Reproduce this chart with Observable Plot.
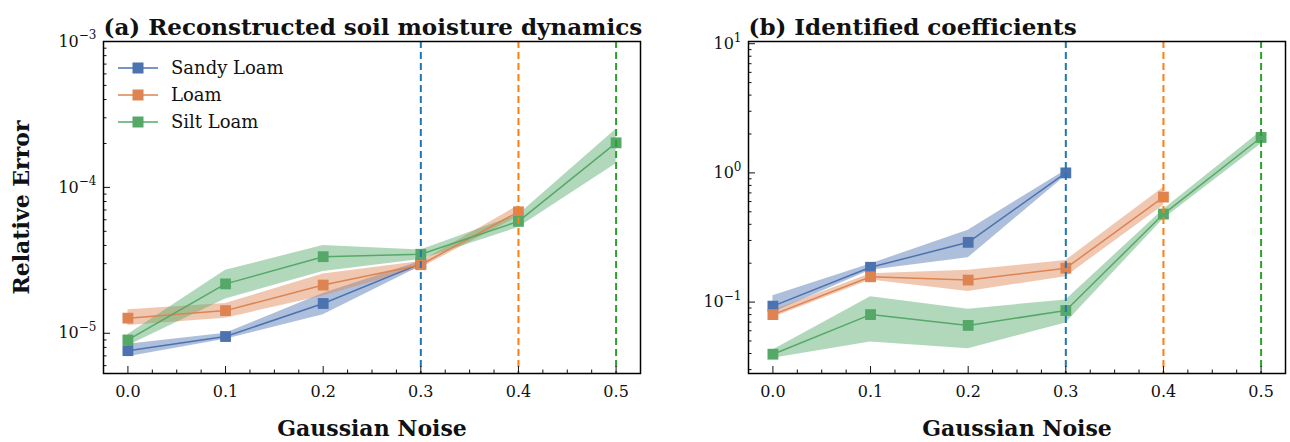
<!DOCTYPE html>
<html><head><meta charset="utf-8">
<script src="https://cdn.jsdelivr.net/npm/d3@7"></script>
<script src="https://cdn.jsdelivr.net/npm/@observablehq/plot@0.6"></script>
<style>
body{margin:0;background:#fff;}
#wrap{display:flex;width:1290px;height:442px;font-family:"DejaVu Serif",serif;}
.panel{position:relative;width:645px;height:442px;}
.legend{position:absolute;left:118px;top:54px;font-family:"DejaVu Serif",serif;font-size:18px;line-height:27px;color:#111;}
.legend div{display:flex;align-items:center;height:27px;}
.legend svg{margin-right:13px;}
</style></head><body><div id="wrap"></div>
<script>
const noise = [0.0, 0.1, 0.2, 0.3, 0.4, 0.5];
const soils = ["Sandy Loam", "Loam", "Silt Loam"];
const colors = ["#4c72b0", "#dd8452", "#55a868"];
const limitNoise = [0.3, 0.4, 0.5];
const limitColors = ["#1f77b4", "#ff7f0e", "#2ca02c"];
const xMinor = [-0.025, 0.025, 0.05, 0.075, 0.125, 0.15, 0.175, 0.225, 0.25, 0.275, 0.325, 0.35, 0.375, 0.425, 0.45, 0.475, 0.525];

// (a) Reconstructed soil moisture dynamics — relative error
const aSandyMean = [7.6e-6, 9.5e-6, 1.6e-5, 3.0e-5];
const aSandyLow  = [6.9e-6, 9.1e-6, 1.34e-5, 2.88e-5];
const aSandyHigh = [8.4e-6, 1.0e-5, 1.87e-5, 3.12e-5];
const aLoamMean = [1.27e-5, 1.43e-5, 2.14e-5, 2.95e-5, 6.8e-5];
const aLoamLow  = [1.13e-5, 1.27e-5, 1.8e-5, 2.8e-5, 6.3e-5];
const aLoamHigh = [1.45e-5, 1.6e-5, 2.55e-5, 3.1e-5, 7.5e-5];
const aSiltMean = [9.0e-6, 2.18e-5, 3.35e-5, 3.48e-5, 5.85e-5, 2.02e-4];
const aSiltLow  = [8.2e-6, 1.72e-5, 2.65e-5, 3.2e-5, 5.3e-5, 1.45e-4];
const aSiltHigh = [9.8e-6, 2.7e-5, 4.0e-5, 3.72e-5, 6.5e-5, 2.5e-4];
const aYTicks = [1e-5, 1e-4, 1e-3];
const aYMinor = [6e-6,7e-6,8e-6,9e-6,2e-5,3e-5,4e-5,5e-5,6e-5,7e-5,8e-5,9e-5,2e-4,3e-4,4e-4,5e-4,6e-4,7e-4,8e-4,9e-4];

// (b) Identified coefficients — relative error
const bSandyMean = [0.093, 0.186, 0.29, 1.0];
const bSandyLow  = [0.083, 0.176, 0.22, 0.95];
const bSandyHigh = [0.112, 0.197, 0.36, 1.05];
const bLoamMean = [0.080, 0.157, 0.148, 0.183, 0.65];
const bLoamLow  = [0.076, 0.148, 0.121, 0.157, 0.56];
const bLoamHigh = [0.086, 0.166, 0.176, 0.21, 0.77];
const bSiltMean = [0.0395, 0.080, 0.066, 0.086, 0.48, 1.88];
const bSiltLow  = [0.0367, 0.049, 0.0436, 0.069, 0.44, 1.67];
const bSiltHigh = [0.0425, 0.11, 0.088, 0.104, 0.52, 2.1];
const bYTicks = [0.1, 1, 10];
const bYMinor = [0.03,0.04,0.05,0.06,0.07,0.08,0.09,0.2,0.3,0.4,0.5,0.6,0.7,0.8,0.9,2,3,4,5,6,7,8,9];

function rowsOf(series) {
  const rows = [];
  series.forEach(([soil, mean, lo, hi]) => {
    mean.forEach((v, i) => rows.push({soil, x: noise[i], y: v, lo: lo[i], hi: hi[i]}));
  });
  return rows;
}
const aRows = rowsOf([["Sandy Loam", aSandyMean, aSandyLow, aSandyHigh], ["Loam", aLoamMean, aLoamLow, aLoamHigh], ["Silt Loam", aSiltMean, aSiltLow, aSiltHigh]]);
const bRows = rowsOf([["Sandy Loam", bSandyMean, bSandyLow, bSandyHigh], ["Loam", bLoamMean, bLoamLow, bLoamHigh], ["Silt Loam", bSiltMean, bSiltLow, bSiltHigh]]);

function supFmt(d) { return "10^" + Math.round(Math.log10(d)); }

function panel(rows, yDomain, yTicks, yMinor, title, yLabel) {
  const svg = Plot.plot({
    width: 645, height: 442,
    marginLeft: 103, marginRight: 5, marginTop: 41, marginBottom: 69,
    style: {fontFamily: "DejaVu Serif, serif", fontSize: "16px", color: "#111", background: "white", overflow: "visible"},
    x: {domain: [-0.025, 0.525]},
    y: {type: "log", domain: yDomain},
    color: {domain: soils, range: colors},
    marks: [
      Plot.areaY(rows, {x: "x", y1: "lo", y2: "hi", z: "soil", fill: "soil", fillOpacity: 0.45}),
      Plot.lineY(rows, {x: "x", y: "y", z: "soil", stroke: "soil", strokeWidth: 1.5}),
      Plot.dot(rows, {x: "x", y: "y", fill: "soil", symbol: "square", r: 6.1}),
      ...limitNoise.map((v, i) => Plot.ruleX([v], {stroke: limitColors[i], strokeWidth: 2, strokeDasharray: "7,4"})),
      Plot.axisX({ticks: noise, tickSize: -7, tickPadding: 19, tickFormat: d3.format(".1f"), label: "Gaussian Noise", labelAnchor: "center", labelArrow: "none", labelOffset: 62}),
      Plot.axisX({ticks: xMinor, tickSize: -3.5, tickFormat: () => "", label: null}),
      Plot.axisY({ticks: yTicks, tickSize: -7, tickPadding: 14, tickFormat: supFmt, label: yLabel, labelAnchor: "center", labelArrow: "none", labelOffset: 90}),
      Plot.axisY({ticks: yMinor, tickSize: -3.5, tickFormat: () => "", label: null}),
      Plot.text([title], {text: d => d, frameAnchor: "top-left", dy: -23, textAnchor: "start", fontSize: 23, fontWeight: "bold"}),
      Plot.frame({stroke: "black", strokeWidth: 1.5})
    ]
  });
  // superscript exponents
  svg.querySelectorAll('[aria-label="y-axis tick label"] text').forEach(t => {
    const m = t.textContent.match(/^10\^(-?\d+)$/);
    if (m) {
      const e = m[1].replace("-", "\u2212");
      t.textContent = "10";
      const ts = document.createElementNS("http://www.w3.org/2000/svg", "tspan");
      ts.setAttribute("font-size", "12");
      ts.setAttribute("dy", "-0.6em");
      ts.textContent = e;
      t.appendChild(ts);
    }
  });
  svg.querySelectorAll('[aria-label="x-axis label"] text, [aria-label="y-axis label"] text').forEach(t => {
    t.setAttribute("font-size", "22");
    t.setAttribute("font-weight", "bold");
  });
  return svg;
}

const wrap = document.getElementById("wrap");
const pa = document.createElement("div"); pa.className = "panel";
pa.appendChild(panel(aRows, [5.3e-6, 1e-3], aYTicks, aYMinor, "(a) Reconstructed soil moisture dynamics", "Relative Error"));
const leg = document.createElement("div"); leg.className = "legend";
soils.forEach((s, i) => {
  const row = document.createElement("div");
  row.innerHTML = `<svg width="40" height="14"><line x1="0" y1="7" x2="40" y2="7" stroke="${colors[i]}" stroke-width="1.5"/><rect x="14.5" y="1.5" width="11" height="11" fill="${colors[i]}"/></svg><span>${s}</span>`;
  leg.appendChild(row);
});
pa.appendChild(leg);
const pb = document.createElement("div"); pb.className = "panel";
pb.appendChild(panel(bRows, [0.028, 10.4], bYTicks, bYMinor, "(b) Identified coefficients", null));
wrap.appendChild(pa); wrap.appendChild(pb);
</script></body></html>
